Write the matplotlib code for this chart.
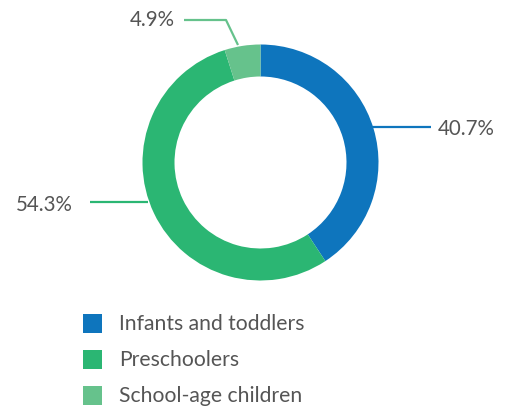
import matplotlib.pyplot as plt
from matplotlib.patches import Rectangle

categories = ['Infants and toddlers', 'Preschoolers', 'School-age children']
shares = [40.7, 54.3, 4.9]
colors = ['#0e75bd', '#2bb673', '#66c28c']
text_color = '#555555'

plt.rcParams['font.family'] = ['Lato', 'DejaVu Sans']

fig = plt.figure(figsize=(5.05, 4.08), dpi=100)
ax = fig.add_axes([0, 0, 1, 1])

# pixel coordinates, y axis points down -> angles are mirrored
cx, cy, r = 260.5, 162.5, 118
ax.pie(shares, colors=colors, startangle=-90, counterclock=True,
       center=(cx, cy), radius=r, frame=True,
       wedgeprops=dict(width=32, linewidth=0))
ax.set_xlim(0, 505)
ax.set_ylim(408, 0)
ax.set_aspect('equal')
ax.axis('off')

# label leader lines (pixel layout): path points, text anchor
leaders = [
    ([(372, 126.7), (431, 126.7)], (438, 129), 'left'),
    ([(148, 202), (90, 202)], (73, 205), 'right'),
    ([(238, 45), (226, 20), (184, 20)], (175, 20), 'right'),
]
for (pts, (tx, ty), ha), val, col in zip(leaders, shares, colors):
    xs, ys = zip(*pts)
    ax.plot(xs, ys, color=col, lw=1.6, solid_capstyle='butt')
    ax.text(tx, ty, f'{val}%', ha=ha, va='center', fontsize=14.8, color=text_color)

for i, (lab, col) in enumerate(zip(categories, colors)):
    y = 314 + i * 36
    ax.add_patch(Rectangle((83, y), 19, 19, color=col, lw=0))
    ax.text(119, y + 10, lab, va='center', ha='left', fontsize=15.2, color=text_color)

fig.savefig('out.png', dpi=100)
